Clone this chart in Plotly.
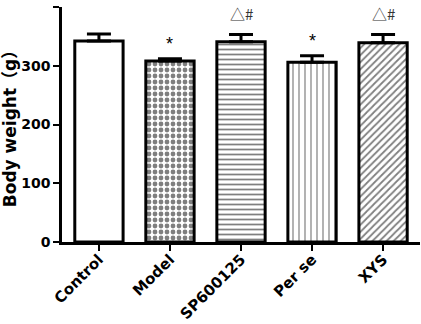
import plotly.graph_objects as go

groups = ["Control", "Model", "SP600125", "Per se", "XYS"]
means = [342, 308, 341, 306, 339]
sem = [12, 4, 12, 11, 14]
marks = ["", "*", "△#", "*", "△#"]

patterns = ["", ".", "-", "|", "/"]
pat_size = [8, 6, 5, 6, 5]
pat_sol = [0.2, 0.5, 0.35, 0.2, 0.35]

fig = go.Figure()
fig.add_trace(go.Bar(
    x=list(range(len(groups))), y=means, width=0.68,
    marker=dict(color="white", line=dict(color="black", width=3),
                pattern=dict(shape=patterns, size=pat_size, solidity=pat_sol,
                             fgcolor="black", bgcolor="white", fillmode="overlay")),
    error_y=dict(type="data", symmetric=False, array=sem, arrayminus=[0]*len(sem),
                 color="black", thickness=3, width=12),
))

for i, (m, e, t) in enumerate(zip(means, sem, marks)):
    if not t:
        continue
    if t == "*":
        fig.add_annotation(x=i, y=m + e, yshift=15, text=t, showarrow=False,
                           font=dict(family="Liberation Sans, Arial", size=18, color="black"))
    else:
        fig.add_annotation(x=i, y=m + e, yshift=21, text=t, showarrow=False,
                           font=dict(family="Noto Sans CJK SC, DejaVu Sans", size=15, color="#333"))

fig.update_layout(
    width=421, height=324, margin=dict(l=62, r=1, t=7, b=82, autoexpand=False),
    plot_bgcolor="white", paper_bgcolor="white", showlegend=False,
    font=dict(family="DejaVu Sans", size=14, color="black"),
)
fig.update_xaxes(range=[-0.52, 4.52], tickmode="array", tickvals=list(range(len(groups))),
                 ticktext=groups, tickangle=-45, showline=True, linecolor="black", linewidth=2.5,
                 ticks="outside", ticklen=6, tickwidth=2, tickcolor="black", showgrid=False,
                 automargin=False, ticklabelstandoff=-6,
                 tickfont=dict(family="DejaVu Sans", size=15, color="black",
                               weight="bold"), zeroline=False)
fig.update_yaxes(range=[0, 400], tickvals=[0, 100, 200, 300, 400], showline=True, linecolor="black",
                 linewidth=2.5, ticks="outside", ticklen=6, tickwidth=2, tickcolor="black",
                 showgrid=False, zeroline=False, automargin=False,
                 tickfont=dict(family="DejaVu Sans", size=14, color="black", weight="bold"),
                 title=dict(text="Body weight（g）", standoff=4,
                            font=dict(family="DejaVu Sans, Noto Sans CJK SC", size=17,
                                      color="black", weight="bold")))

fig.write_html("out.html", config={"displayModeBar": False},
               post_script="document.body.style.margin='0';")
